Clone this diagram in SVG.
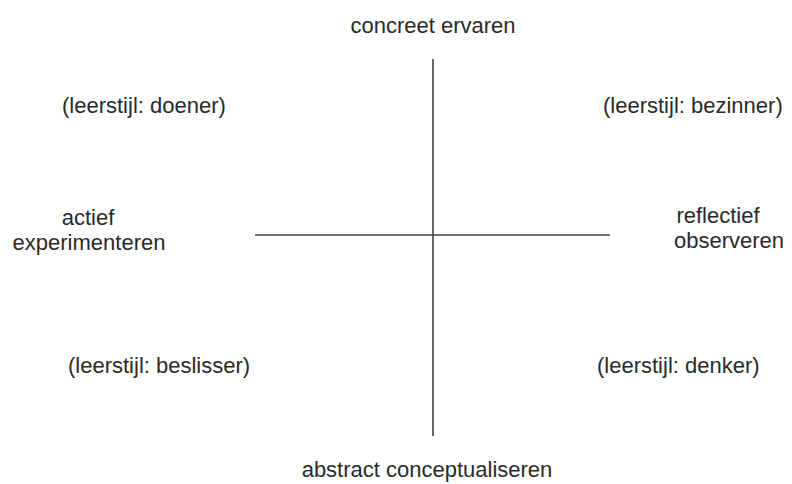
<svg xmlns="http://www.w3.org/2000/svg" width="792" height="484" viewBox="0 0 792 484">
<style>
.t{font-family:"Liberation Sans",Arial,sans-serif;font-size:22px;fill:#2a2a2a}
.ax{stroke:#444;stroke-width:1.6;fill:none}
</style>
<rect width="792" height="484" fill="#fff"/>
<g id="connectors">
<line class="ax" x1="433" y1="59" x2="433" y2="436"/>
<line class="ax" x1="255" y1="235" x2="610" y2="235"/>
</g>
<g id="top"><text class="t" x="433" y="33" text-anchor="middle">concreet ervaren</text></g>
<g id="bottom"><text class="t" x="427" y="477" text-anchor="middle">abstract conceptualiseren</text></g>
<g id="left"><text class="t" x="88" y="225" text-anchor="middle">actief</text><text class="t" x="89" y="250" text-anchor="middle">experimenteren</text></g>
<g id="right"><text class="t" x="718" y="223" text-anchor="middle">reflectief</text><text class="t" x="729" y="248" text-anchor="middle">observeren</text></g>
<g id="doener"><text class="t" x="62" y="113">(leerstijl: doener)</text></g>
<g id="bezinner"><text class="t" x="603" y="113">(leerstijl: bezinner)</text></g>
<g id="beslisser"><text class="t" x="68" y="373">(leerstijl: beslisser)</text></g>
<g id="denker"><text class="t" x="597" y="373">(leerstijl: denker)</text></g>
</svg>
